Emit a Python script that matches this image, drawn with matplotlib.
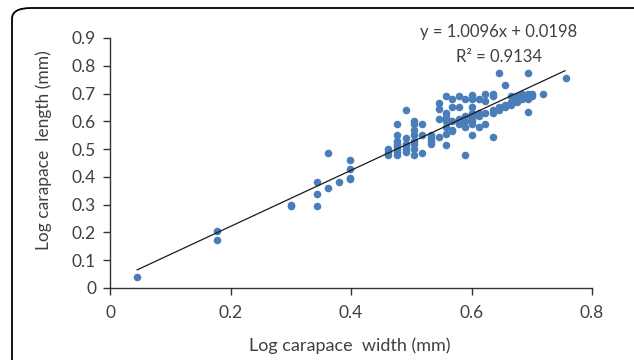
import matplotlib
matplotlib.use("Agg")
import matplotlib.pyplot as plt
from matplotlib.patches import FancyBboxPatch
import numpy as np

plt.rcParams['font.family'] = ['Lato', 'DejaVu Sans']

cols = [
    (0.045, [0.04]),
    (0.177, [0.205, 0.173]),
    (0.301, [0.30, 0.295]),
    (0.344, [0.38, 0.338, 0.297]),
    (0.362, [0.487, 0.36]),
    (0.380, [0.38]),
    (0.398, [0.462, 0.43, 0.397, 0.393]),
    (0.462, [0.48, 0.49, 0.50]),
    (0.477, [0.59, 0.55, 0.53, 0.52, 0.51, 0.50, 0.49, 0.48]),
    (0.491, [0.64, 0.54, 0.52, 0.51, 0.50, 0.49]),
    (0.505, [0.60, 0.59, 0.57, 0.55, 0.53, 0.52, 0.50, 0.48]),
    (0.518, [0.59, 0.55, 0.485]),
    (0.532, [0.55, 0.54, 0.53, 0.52]),
    (0.546, [0.665, 0.645, 0.61, 0.545]),
    (0.557, [0.69, 0.63, 0.615, 0.60, 0.58, 0.555, 0.515]),
    (0.568, [0.68, 0.65, 0.60, 0.57, 0.565]),
    (0.579, [0.69, 0.65, 0.61, 0.60, 0.59]),
    (0.590, [0.68, 0.62, 0.60, 0.58, 0.478]),
    (0.600, [0.695, 0.68, 0.65, 0.63, 0.62, 0.61, 0.60, 0.59, 0.55]),
    (0.613, [0.68, 0.63, 0.62, 0.58]),
    (0.623, [0.70, 0.675, 0.63, 0.59]),
    (0.635, [0.70, 0.69, 0.64, 0.63, 0.545]),
    (0.646, [0.773, 0.65, 0.64]),
    (0.656, [0.73, 0.66, 0.65]),
    (0.665, [0.69, 0.67, 0.66]),
    (0.675, [0.69, 0.68, 0.67]),
    (0.683, [0.70, 0.69, 0.68]),
    (0.693, [0.773, 0.70, 0.69, 0.68, 0.633]),
    (0.700, [0.70, 0.69]),
    (0.718, [0.70]),
    (0.757, [0.757]),
]
width = [c[0] for c in cols for _ in c[1]]
length = [v for c in cols for v in c[1]]

slope = 1.0096
intercept = 0.0198
fit_x = [0.045, 0.755]

tc = '#404040'
fig = plt.figure(figsize=(6.34, 3.6), dpi=100)
frame = FancyBboxPatch((12/634, -0.2), 1.2, 1 - 8/360 + 0.2,
                       boxstyle="round,pad=0,rounding_size=0.03",
                       transform=fig.transFigure, fill=False,
                       edgecolor='black', linewidth=1.3, clip_on=False)
fig.patches.append(frame)

ax = fig.add_axes([110/634, 1 - 288/360, (592 - 110)/634, (288 - 38)/360])
ax.scatter(width, length, s=30, color='#4a7ebb', zorder=3, linewidths=0)
fx = np.array(fit_x)
ax.plot(fx, slope * fx + intercept, color='#1a1a1a', linewidth=0.9, zorder=4)

ax.set_xlim(0, 0.8)
ax.set_ylim(0, 0.9)
ax.set_xticks([0, 0.2, 0.4, 0.6, 0.8])
ax.set_xticklabels(['0', '0.2', '0.4', '0.6', '0.8'])
ax.set_yticks(np.arange(0, 0.91, 0.1))
ax.set_yticklabels(['0', '0.1', '0.2', '0.3', '0.4', '0.5', '0.6', '0.7', '0.8', '0.9'])
for s in ['top', 'right']:
    ax.spines[s].set_visible(False)
for s in ['left', 'bottom']:
    ax.spines[s].set_linewidth(1.0)
    ax.spines[s].set_color('#333333')
ax.tick_params(direction='out', length=5, width=1, labelsize=12.5, colors='#333333',
               labelcolor=tc)
ax.tick_params(axis='x', pad=7)
ax.tick_params(axis='y', pad=5)

fig.text(350/634, 1 - 346/360, 'Log carapace  width (mm)', ha='center', va='center',
         fontsize=13, color=tc)
fig.text(44/634, 1 - 150/360, 'Log carapace  length (mm)', ha='center', va='center',
         rotation=90, fontsize=12.5, color=tc)
fig.text(499/634, 1 - 32/360, 'y = 1.0096x + 0.0198', ha='center', va='center',
         fontsize=12, color=tc)
fig.text(499/634, 1 - 57/360, 'R² = 0.9134', ha='center', va='center', fontsize=12, color=tc)

fig.savefig('out.png', dpi=100)
